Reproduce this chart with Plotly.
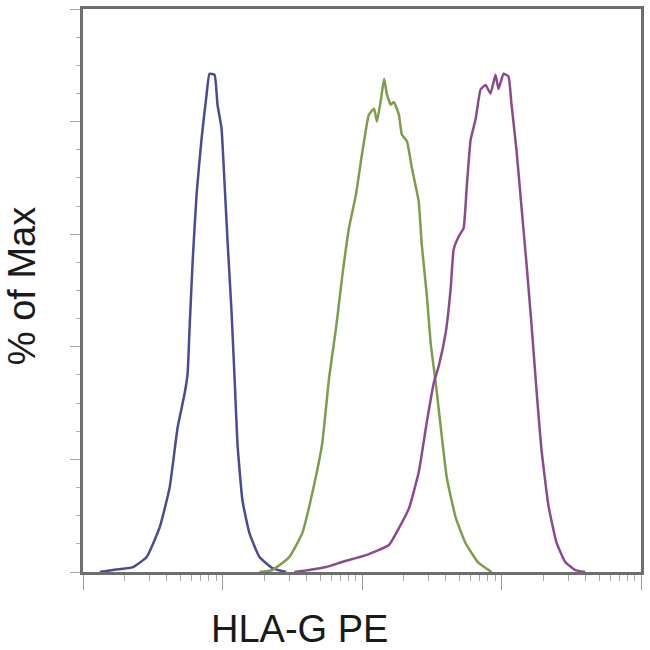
import plotly.graph_objects as go

# Fluorescence intensity (log scale) and % of Max for each histogram
blue_x = [1.32, 1.64, 2.28, 2.86, 3.55, 4.18, 4.77, 5.35, 5.62, 5.81, 6.11, 6.52, 7.08, 7.69, 8.07,
          8.77, 9.21, 9.84, 10.3, 10.9, 11.6, 12.2, 12.8, 13.9, 15.6, 18.4, 22.8, 28.6]
blue_y = [0, 0.35, 0.88, 2.65, 7.96, 15.0, 25.7, 31.7, 35.2, 43.4, 55.2, 67.1, 77.0, 84.8, 88.5,
          88.3, 83.0, 78.8, 69.9, 58.2, 46.4, 34.5, 22.8, 12.7, 6.9, 2.65, 0.7, 0]

green_x = [18.4, 22.8, 30.1, 37.3, 44.0, 51.8, 58.1, 65.2, 71.9, 80.7, 90.6, 100, 112, 122, 128, 137,
           144, 151, 161, 169, 184, 193, 210, 228, 255, 268, 291, 311, 338, 367, 405, 469, 553, 685, 849]
green_y = [0, 0.35, 2.65, 6.9, 14.0, 22.8, 34.5, 43.4, 52.2, 61.1, 67.1, 74.2, 81.2, 82.3, 80.0, 84.1,
           87.6, 84.8, 83.0, 83.5, 81.2, 77.7, 76.5, 71.7, 65.8, 58.2, 49.4, 40.5, 33.5, 25.7, 16.8,
           9.7, 5.1, 1.6, 0]

purple_x = [32.7, 41.8, 55.3, 71.9, 107, 156, 184, 217, 255, 291, 327, 355, 398, 432, 454, 493, 535,
            562, 601, 652, 708, 769, 834, 906, 952, 1034, 1122, 1178, 1280, 1389, 1509, 1638, 1778,
            1931, 2167, 2472, 2864, 3378, 3981]
purple_y = [0, 0.35, 0.88, 1.77, 3.0, 4.8, 7.8, 11.3, 17.7, 26.5, 33.6, 36.6, 42.5, 50.3, 57.3, 59.6,
            61.1, 68.0, 76.8, 80.4, 85.7, 86.5, 85.0, 88.3, 85.8, 88.5, 88.0, 83.2, 75.0, 65.0, 54.9,
            44.2, 32.6, 21.9, 11.9, 5.3, 1.77, 0.35, 0]

x_title = "HLA-G PE"
y_title = "% of Max"

fig = go.Figure()
for xs, ys, col in [(blue_x, blue_y, "#4a4a96"),
                    (green_x, green_y, "#7f9c4a"),
                    (purple_x, purple_y, "#8c4a8e")]:
    fig.add_trace(go.Scatter(x=xs, y=ys, mode="lines",
                             line=dict(color=col, width=2.5, shape="spline", smoothing=0.4),
                             showlegend=False, hoverinfo="skip"))

axis_line = dict(showline=True, linecolor="#6e6e6e", linewidth=2.5, mirror=True,
                 showgrid=False, zeroline=False, showticklabels=False)

fig.update_xaxes(type="log", range=[0, 4], dtick=1, ticks="outside", ticklen=15,
                 tickwidth=1.2, tickcolor="#9a9a9a",
                 minor=dict(ticks="outside", ticklen=6, tickwidth=1.2, tickcolor="#a8a8a8", dtick="D1"),
                 **axis_line)
fig.update_yaxes(range=[0, 100], dtick=20, ticks="outside", ticklen=10,
                 tickwidth=1.2, tickcolor="#a8a8a8",
                 minor=dict(ticks="outside", ticklen=4, tickwidth=1.2, tickcolor="#b0b0b0", dtick=5),
                 **axis_line)

fig.add_annotation(text=x_title, xref="paper", yref="paper", x=0.225, y=-0.101,
                   xanchor="left", yanchor="middle", showarrow=False,
                   font=dict(family="Liberation Sans, Arial", size=38, color="#1a1a1a"))
fig.add_annotation(text=y_title, xref="paper", yref="paper", x=-0.109, y=0.508,
                   xanchor="center", yanchor="middle", textangle=-90, showarrow=False,
                   font=dict(family="Liberation Sans, Arial", size=38, color="#1a1a1a"))

fig.update_layout(width=650, height=650, margin=dict(l=83, r=6, t=7, b=78),
                  plot_bgcolor="white", paper_bgcolor="white")

fig.write_html("out.html", config={"displayModeBar": False},
               post_script="document.body.style.margin='0';document.body.style.overflow='hidden';")
